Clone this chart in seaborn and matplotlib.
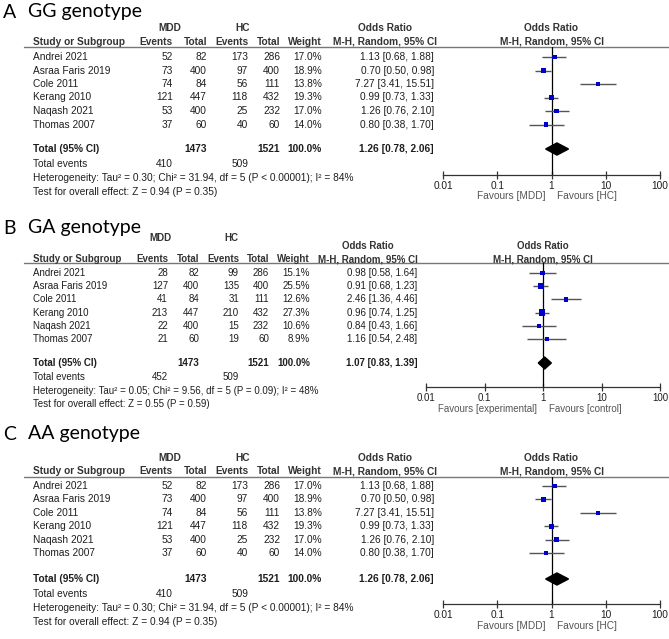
import numpy as np
import pandas as pd
import matplotlib
matplotlib.use('Agg')
import matplotlib.pyplot as plt
import seaborn as sns

sns.set_theme(style='white')
plt.rcParams['font.family'] = ['Liberation Sans', 'DejaVu Sans']

W, H = 669, 639

studies = ['Andrei 2021', 'Asraa Faris 2019', 'Cole 2011', 'Kerang 2010', 'Naqash 2021', 'Thomas 2007']
mdd_total = [82, 400, 84, 447, 400, 60]
hc_total = [286, 400, 111, 432, 232, 60]

# GG genotype (panel A) and AA genotype (panel C) share the same numbers
gg_mdd_events = [52, 73, 74, 121, 53, 37]
gg_hc_events = [173, 97, 56, 118, 25, 40]
gg_weight = [17.0, 18.9, 13.8, 19.3, 17.0, 14.0]
gg_or = [1.13, 0.70, 7.27, 0.99, 1.26, 0.80]
gg_lo = [0.68, 0.50, 3.41, 0.73, 0.76, 0.38]
gg_hi = [1.88, 0.98, 15.51, 1.33, 2.10, 1.70]
gg_pooled = [1.26, 0.78, 2.06]
gg_events_sum = [410, 509]
gg_het = 'Heterogeneity: Tau² = 0.30; Chi² = 31.94, df = 5 (P < 0.00001); I² = 84%'
gg_z = 'Test for overall effect: Z = 0.94 (P = 0.35)'

# GA genotype (panel B)
ga_mdd_events = [28, 127, 41, 213, 22, 21]
ga_hc_events = [99, 135, 31, 210, 15, 19]
ga_weight = [15.1, 25.5, 12.6, 27.3, 10.6, 8.9]
ga_or = [0.98, 0.91, 2.46, 0.96, 0.84, 1.16]
ga_lo = [0.58, 0.68, 1.36, 0.74, 0.43, 0.54]
ga_hi = [1.64, 1.23, 4.46, 1.25, 1.66, 2.48]
ga_pooled = [1.07, 0.83, 1.39]
ga_events_sum = [452, 509]
ga_het = 'Heterogeneity: Tau² = 0.05; Chi² = 9.56, df = 5 (P = 0.09); I² = 48%'
ga_z = 'Test for overall effect: Z = 0.55 (P = 0.59)'

sum_totals = [1473, 1521]
tick_vals = [0.01, 0.1, 1, 10, 100]
tick_labels = ['0.01', '0.1', '1', '10', '100']

panels = [
    dict(letter='A', title='GG genotype', me=gg_mdd_events, he=gg_hc_events, w=gg_weight,
         orr=gg_or, lo=gg_lo, hi=gg_hi, pooled=gg_pooled, ev=gg_events_sum, het=gg_het, z=gg_z,
         fav=('Favours [MDD]', 'Favours [HC]'),
         title_y=12, group_y=28, or_y=28, head_y=42, line_y=47, row0=57, step=13.5, total_y=149,
         events_y=164, het_y=178, z_y=192, axis_y=175, fav_y=196,
         cols=[173, 207, 248, 280, 322], groups=[170, 243], or_x=434, or_head=385,
         forest=(443, 660), fs=7.3),
    dict(letter='B', title='GA genotype', me=ga_mdd_events, he=ga_hc_events, w=ga_weight,
         orr=ga_or, lo=ga_lo, hi=ga_hi, pooled=ga_pooled, ev=ga_events_sum, het=ga_het, z=ga_z,
         fav=('Favours [experimental]', 'Favours [control]'),
         title_y=228, group_y=238, or_y=246, head_y=259, line_y=263, row0=273, step=13.2, total_y=363,
         events_y=377, het_y=391, z_y=404, axis_y=387, fav_y=409,
         cols=[168, 199, 239, 269, 310], groups=[160, 231], or_x=417, or_head=368,
         forest=(426, 660), fs=7.0),
    dict(letter='C', title='AA genotype', me=gg_mdd_events, he=gg_hc_events, w=gg_weight,
         orr=gg_or, lo=gg_lo, hi=gg_hi, pooled=gg_pooled, ev=gg_events_sum, het=gg_het, z=gg_z,
         fav=('Favours [MDD]', 'Favours [HC]'),
         title_y=434, group_y=458, or_y=458, head_y=471, line_y=477, row0=486, step=13.4, total_y=579,
         events_y=594, het_y=608, z_y=622, axis_y=604, fav_y=626,
         cols=[173, 207, 248, 280, 322], groups=[170, 243], or_x=434, or_head=385,
         forest=(443, 660), fs=7.3),
]

txt = '#1e1e1e'
hdr = '#333333'
fig = plt.figure(figsize=(W / 100, H / 100), dpi=100)
fig.patch.set_facecolor('white')
ov = fig.add_axes([0, 0, 1, 1])
ov.set_xlim(0, W)
ov.set_ylim(H, 0)
ov.axis('off')

for p in panels:
    fs = p['fs']
    ov.text(3, p['title_y'], p['letter'], fontsize=14, family=['Lato', 'DejaVu Sans'], va='center', color='black')
    ov.text(28, p['title_y'], p['title'], fontsize=14, family=['Lato', 'DejaVu Sans'], va='center', color='black')

    # column headers
    ov.text(p['groups'][0], p['group_y'], 'MDD', fontsize=fs, weight='bold', ha='center', va='center', color=hdr)
    ov.text(p['groups'][1], p['group_y'], 'HC', fontsize=fs, weight='bold', ha='center', va='center', color=hdr)
    ov.text(33, p['head_y'], 'Study or Subgroup', fontsize=fs, weight='bold', va='center', color=hdr)
    for x, lab in zip(p['cols'], ['Events', 'Total', 'Events', 'Total', 'Weight']):
        ov.text(x, p['head_y'], lab, fontsize=fs, weight='bold', ha='right', va='center', color=hdr)
    for cx in [p['or_head'], (p['forest'][0] + p['forest'][1]) / 2]:
        ov.text(cx, p['or_y'], 'Odds Ratio', fontsize=fs, weight='bold', ha='center', va='center', color=hdr)
        ov.text(cx, p['head_y'], 'M-H, Random, 95% CI', fontsize=fs, weight='bold', ha='center', va='center', color=hdr)
    ov.plot([24, W], [p['line_y'], p['line_y']], color='#777777', lw=1)

    # study rows
    df = pd.DataFrame({'study': studies, 'me': p['me'], 'mt': mdd_total, 'he': p['he'], 'ht': hc_total,
                       'w': p['w'], 'or': p['orr'], 'lo': p['lo'], 'hi': p['hi']})
    df['row'] = np.arange(len(df))
    for i, r in df.iterrows():
        y = p['row0'] + r['row'] * p['step']
        ov.text(33, y, r['study'], fontsize=fs, va='center', color=txt)
        vals = [str(int(r['me'])), str(int(r['mt'])), str(int(r['he'])), str(int(r['ht'])), f"{r['w']:.1f}%"]
        for x, v in zip(p['cols'], vals):
            ov.text(x, y, v, fontsize=fs, ha='right', va='center', color=txt)
        ov.text(p['or_x'], y, f"{r['or']:.2f} [{r['lo']:.2f}, {r['hi']:.2f}]", fontsize=fs, ha='right', va='center', color=txt)

    # totals
    ty = p['total_y']
    ov.text(33, ty, 'Total (95% CI)', fontsize=fs, weight='bold', va='center', color=txt)
    ov.text(p['cols'][1], ty, str(sum_totals[0]), fontsize=fs, weight='bold', ha='right', va='center', color=txt)
    ov.text(p['cols'][3], ty, str(sum_totals[1]), fontsize=fs, weight='bold', ha='right', va='center', color=txt)
    ov.text(p['cols'][4], ty, '100.0%', fontsize=fs, weight='bold', ha='right', va='center', color=txt)
    pe, pl, ph = p['pooled']
    ov.text(p['or_x'], ty, f'{pe:.2f} [{pl:.2f}, {ph:.2f}]', fontsize=fs, weight='bold', ha='right', va='center', color=txt)
    ov.text(33, p['events_y'], 'Total events', fontsize=fs, va='center', color=txt)
    ov.text(p['cols'][0], p['events_y'], str(p['ev'][0]), fontsize=fs, ha='right', va='center', color=txt)
    ov.text(p['cols'][2], p['events_y'], str(p['ev'][1]), fontsize=fs, ha='right', va='center', color=txt)
    ov.text(33, p['het_y'], p['het'], fontsize=fs, va='center', color=txt)
    ov.text(33, p['z_y'], p['z'], fontsize=fs, va='center', color=txt)

    # forest plot
    fx0, fx1 = p['forest']
    ax = fig.add_axes([fx0 / W, 1 - p['axis_y'] / H, (fx1 - fx0) / W, (p['axis_y'] - p['line_y']) / H])
    ax.set_facecolor('none')
    ax.set_xscale('log')
    ax.set_xlim(0.01, 100)
    ax.set_ylim((p['axis_y'] - p['row0']) / p['step'], (p['line_y'] - p['row0']) / p['step'])
    ax.axvline(1, color='black', lw=0.9, zorder=1)
    ax.hlines(df['row'], df['lo'], df['hi'], color='#555555', lw=1, zorder=2)
    sns.scatterplot(data=df, x='or', y='row', size='w', sizes=(0, 22), size_norm=(0, 30), marker='s',
                    color='#0000CC', edgecolor='none', legend=False, ax=ax, zorder=3)
    trow = (ty - p['row0']) / p['step']
    ax.fill([pl, pe, ph, pe], [trow, trow - 0.45, trow, trow + 0.45], color='black', zorder=3)
    for s in ['top', 'left', 'right']:
        ax.spines[s].set_visible(False)
    ax.spines['bottom'].set_color('#333333')
    ax.spines['bottom'].set_linewidth(0.9)
    ax.set_xticks(tick_vals)
    ax.set_xticklabels(tick_labels)
    ax.minorticks_off()
    ax.set_yticks([])
    ax.tick_params(axis='x', direction='inout', length=6, width=0.9, color='#333333', labelsize=fs,
                   labelcolor=txt, pad=1, bottom=True)
    ax.set_xlabel('')
    ax.set_ylabel('')
    frow = (p['fav_y'] - p['row0']) / p['step']
    ax.annotate(p['fav'][0], xy=(1, frow), xytext=(-4, 0), textcoords='offset points', ha='right', va='center',
                fontsize=fs, color='#555555', annotation_clip=False)
    ax.annotate(p['fav'][1], xy=(1, frow), xytext=(4, 0), textcoords='offset points', ha='left', va='center',
                fontsize=fs, color='#555555', annotation_clip=False)

fig.savefig('out.png', dpi=100, facecolor='white')
